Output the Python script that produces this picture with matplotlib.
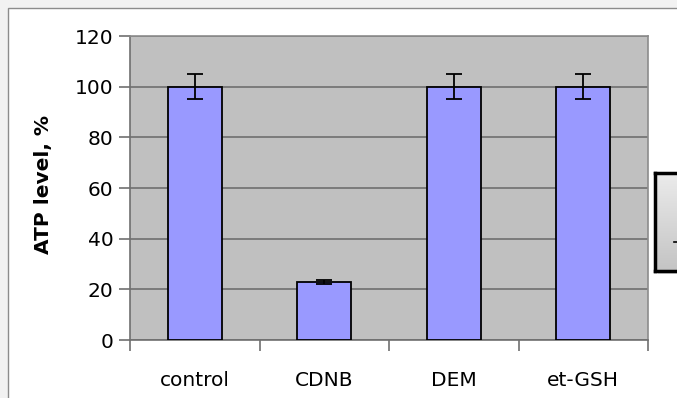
import matplotlib
matplotlib.use("Agg")
import matplotlib.pyplot as plt
import numpy as np
from matplotlib.patches import Rectangle
from matplotlib.colors import LinearSegmentedColormap

categories = ["control", "CDNB", "DEM", "et-GSH"]
values = [100, 23, 100, 100]
errors = [5, 0.7, 5, 5]
yticks = [0, 20, 40, 60, 80, 100, 120]

W, H = 677, 398
fig = plt.figure(figsize=(W / 100, H / 100), dpi=100)
fig.patch.set_facecolor("#f2f2f2")

# white chart panel
fig.patches.append(Rectangle((8 / W, -0.1), 1.2, 1 - 8 / H + 0.1, transform=fig.transFigure,
                             facecolor="white", edgecolor="#8c8c8c", linewidth=1.0, zorder=-10))

ax = fig.add_axes([130 / W, 1 - 340 / H, (648 - 130) / W, (340 - 36) / H])
ax.set_zorder(2)
ax.set_facecolor("#c0c0c0")
x = list(range(len(categories)))
ax.bar(x, values, width=0.42, color="#9999ff", edgecolor="black", linewidth=1.3, zorder=3)
ax.errorbar(x, values, yerr=errors, fmt="none", ecolor="black", elinewidth=1.3,
            capsize=6, capthick=1.3, zorder=4)
ax.set_xlim(-0.5, len(categories) - 0.5)
ax.set_ylim(0, 120)
ax.set_yticks(yticks)
ax.yaxis.grid(True, color="#6f6f6f", linewidth=1.2, zorder=1)
ax.set_axisbelow(True)
for s in ["top", "right"]:
    ax.spines[s].set_color("#8c8c8c")
    ax.spines[s].set_linewidth(1.2)
for s in ["left", "bottom"]:
    ax.spines[s].set_color("#6f6f6f")
    ax.spines[s].set_linewidth(1.2)

ax.set_xticks(x)
ax.set_xticklabels(categories, fontfamily="DejaVu Sans", fontsize=14.5)
ax.tick_params(axis="x", length=0, pad=22)
ax.set_xticks([i + 0.5 for i in range(-1, len(categories))], minor=True)
ax.tick_params(axis="x", which="minor", length=8, color="#6f6f6f", width=1.2)
ax.tick_params(axis="y", length=8, color="#6f6f6f", width=1.2, pad=4)
for lab in ax.get_yticklabels():
    lab.set_fontfamily("DejaVu Sans")
    lab.set_fontsize(14.5)

fig.text(43 / W, 1 - 185 / H, "ATP level, %", rotation=90, ha="center", va="center",
         fontfamily="DejaVu Sans", fontweight="bold", fontsize=14.5)

# legend box (cut off by the right edge), grey gradient with black frame
lx0, ly0, lw, lh = 655, 173, 40, 98
shadow = Rectangle(((lx0 + 3) / W, 1 - (ly0 + lh + 3) / H), lw / W, lh / H, transform=fig.transFigure,
                   facecolor="#d9d9d9", edgecolor="none", zorder=3)
fig.patches.append(shadow)
lax = fig.add_axes([lx0 / W, 1 - (ly0 + lh) / H, lw / W, lh / H])
lax.set_zorder(4)
cmap = LinearSegmentedColormap.from_list("g", ["#c4c4c4", "#ebebeb"])
grad = np.linspace(0, 1, 100).reshape(-1, 1)
lax.imshow(grad, cmap=cmap, aspect="auto", origin="lower", extent=[0, 1, 0, 1])
lax.set_xlim(0, 1)
lax.set_ylim(0, 1)
lax.set_xticks([])
lax.set_yticks([])
for s in lax.spines.values():
    s.set_color("black")
    s.set_linewidth(2.5)
lax.plot([19 / lw, 1.2], [1 - (242 - ly0) / lh] * 2, color="black", linewidth=1.2, clip_on=False)

fig.savefig("out.png", dpi=100)
